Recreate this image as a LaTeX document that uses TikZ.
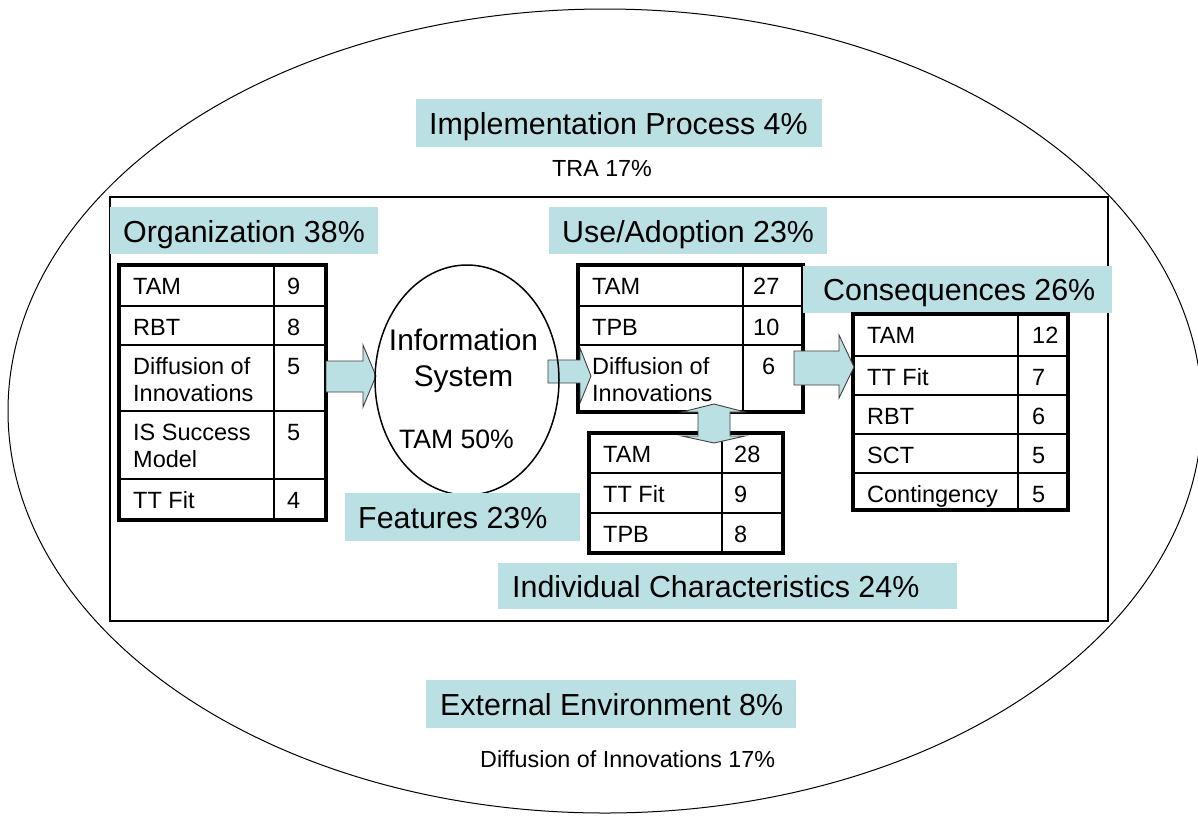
\documentclass[tikz,border=0pt]{standalone}
\usepackage{fontspec}
\usetikzlibrary{shapes.geometric}
\setmainfont{Liberation Sans}
\definecolor{lblfill}{HTML}{BBE0E3}
\definecolor{arrline}{HTML}{404040}
\newcommand\lblfont{\fontsize{30.4}{36}\selectfont}
\newcommand\tabfont{\fontsize{23.5}{27}\selectfont}
\newcommand\smallfont{\fontsize{23.3}{27}\selectfont}
\newcommand\tabrow[9]{%
  \node[cellbox, minimum width={#3-#2}, minimum height={#6-#5}] (#1a) at ({(#2+#3)/2},{(#5+#6)/2}) {};
  \node[cellbox, minimum width={#4-#3}, minimum height={#6-#5}] (#1b) at ({(#3+#4)/2},{(#5+#6)/2}) {};
  \node[ctext] (#1t) at ({#2+14},{#5+29}) {\begin{tabular}[t]{@{}l@{}}#7\end{tabular}};
  \node[ctext] (#1n) at (#8,{#5+29}) {#9};
}
\newcommand\lblnode[8]{%
  \node[lblbox, minimum width={#4-#2}, minimum height={#5-#3}] (#1) at ({(#2+#4)/2},{(#3+#5)/2}) {};
  \node[lbltext] (#1t) at (#6,#7) {#8};
}
\begin{document}
\begin{tikzpicture}[x=1pt,y=-1pt,
  cellbox/.style={draw=black, line width=1.6pt, inner sep=0pt, outer sep=0pt},
  ctext/.style={anchor=base west, inner sep=0pt, font=\tabfont},
  tabborder/.style={draw=black, line width=3.2pt},
  lblbox/.style={fill=lblfill, draw=none, inner sep=0pt, outer sep=0pt},
  lbltext/.style={anchor=base west, inner sep=0pt, font=\lblfont},
  plaintext/.style={anchor=base west, inner sep=0pt, font=\smallfont},
  blockarrow/.style={fill=lblfill, draw=arrline, line width=0.9pt, line join=miter},
]
\useasboundingbox (0,0) rectangle (1198,815);
\clip (0,0) rectangle (1198,815);
\fill[white] (0,0) rectangle (1198,815);

% outer environment ellipse
\node[draw=black, line width=1pt, ellipse, minimum width=1194, minimum height=804, inner sep=0pt] (env) at (605,411) {};
% inner frame
\draw[line width=2.4pt] (110,197) rectangle (1108,621);

% labels
\lblnode{impl}{416}{99}{822}{147}{429}{134}{Implementation Process 4\%}
\node[plaintext] (tra) at (552,176) {TRA 17\%};
\lblnode{org}{110}{207}{378}{254}{123}{242}{Organization 38\%}
\lblnode{use}{549}{207}{827}{254}{562}{242}{Use/Adoption 23\%}
\lblnode{ind}{498}{563}{957}{609}{512}{597}{Individual Characteristics 24\%}
\lblnode{ext}{426}{680}{796}{728}{440}{715}{External Environment 8\%}
\node[plaintext] (dif) at (480,767) {Diffusion of Innovations 17\%};

% Organization table
\tabrow{o1}{119}{274}{326}{265}{306}{TAM}{287}{9}
\tabrow{o2}{119}{274}{326}{306}{345}{RBT}{287}{8}
\tabrow{o3}{119}{274}{326}{345}{411}{Diffusion of\\Innovations}{287}{5}
\tabrow{o4}{119}{274}{326}{411}{479}{IS Success\\Model}{287}{5}
\tabrow{o5}{119}{274}{326}{479}{520}{TT Fit}{287}{4}
\draw[tabborder] (o1a.north west) rectangle (o5b.south east);

% Use/Adoption table
\tabrow{u1}{578}{743}{803}{265}{306}{TAM}{753}{27}
\tabrow{u2}{578}{743}{803}{306}{345}{TPB}{753}{10}
\tabrow{u3}{578}{743}{803}{345}{412}{Diffusion of\\Innovations}{762}{6}
\draw[tabborder] (u1a.north west) rectangle (u3b.south east);

% Individual table
\tabrow{i1}{589}{722}{783}{433}{473}{TAM}{734}{28}
\tabrow{i2}{589}{722}{783}{473}{513}{TT Fit}{734}{9}
\tabrow{i3}{589}{722}{783}{513}{553}{TPB}{734}{8}
\draw[tabborder] (i1a.north west) rectangle (i3b.south east);

% Consequences label and table
\lblnode{cons}{803}{266}{1112}{313}{823}{300}{Consequences 26\%}
\tabrow{c1}{853}{1018}{1068}{314}{356}{TAM}{1032}{12}
\tabrow{c2}{853}{1018}{1068}{356}{395}{TT Fit}{1032}{7}
\tabrow{c3}{853}{1018}{1068}{395}{434}{RBT}{1032}{6}
\tabrow{c4}{853}{1018}{1068}{434}{473}{SCT}{1032}{5}
\tabrow{c5}{853}{1018}{1068}{473}{510}{Contingency}{1032}{5}
\draw[tabborder] (c1a.north west) rectangle (c5b.south east);

% block arrows
\draw[blockarrow] (326,361) -- (363,361) -- (363,345) -- (376,376) -- (363,407) -- (363,392) -- (326,392) -- cycle;
\draw[blockarrow] (548,360) -- (580,360) -- (580,348) -- (591,376) -- (580,403) -- (580,383) -- (548,383) -- cycle;
\draw[blockarrow] (794,351) -- (839,351) -- (839,335) -- (854,367) -- (839,398) -- (839,385) -- (794,385) -- cycle;
\draw[blockarrow] (714,404) -- (745,412) -- (730,412) -- (730,436) -- (745,436) -- (714,443) -- (682,436) -- (698,436) -- (698,412) -- (682,412) -- cycle;

% Information System ellipse
\node[draw=black, line width=1.5pt, ellipse, minimum width=184, minimum height=230, inner sep=0pt] (is) at (467,380) {};
\node[anchor=base, inner sep=0pt, font=\fontsize{29.8}{34}\selectfont] (ist1) at (463.5,350) {Information};
\node[anchor=base, inner sep=0pt, font=\fontsize{29.8}{34}\selectfont] (ist2) at (463.5,386) {System};
\node[anchor=base, inner sep=0pt, font=\fontsize{26.6}{30}\selectfont] (ist3) at (456.5,448) {TAM 50\%};

\lblnode{feat}{345}{493}{580}{541}{358}{528}{Features 23\%}
\end{tikzpicture}
\end{document}
